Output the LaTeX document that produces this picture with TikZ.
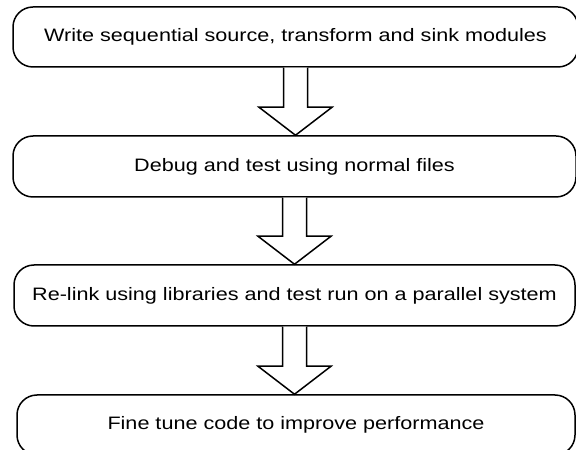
\documentclass[tikz,border=0pt]{standalone}
\usepackage{fontspec}
\setmainfont{Liberation Sans}[FakeStretch=1.2]
\usetikzlibrary{calc}
\begin{document}
\begin{tikzpicture}[x=1pt,y=1pt,
  stepbox/.style={draw=black, line width=1.5pt, rounded corners=20pt, fill=white,
    inner sep=0pt, font=\fontsize{18}{21}\selectfont, text=black},
  blockarrow/.style={draw=black, line width=1.5pt, fill=white, line join=miter}]
\fill[white] (0,0) rectangle (576,450);
\useasboundingbox (0,0) rectangle (576,450);
\clip (0,0) rectangle (576,450);
\node[stepbox, minimum width=565pt, minimum height=60pt] (b1) at (295.5,413) {Write sequential source, transform and sink modules};
\node[stepbox, minimum width=563pt, minimum height=61pt] (b2) at (294.5,283.5) {Debug and test using normal files};
\node[stepbox, minimum width=561pt, minimum height=61pt] (b3) at (294.5,154.5) {Re-link using libraries and test run on a parallel system};
\node[stepbox, minimum width=558pt, minimum height=60pt] (b4) at (296,25) {Fine tune code to improve performance};
\foreach \a/\b in {b1/b2, b2/b3, b3/b4}{
  \draw[blockarrow]
    ($(\a.south)+(-12,0)$) -- ($(\b.north -| \a.south)+(-12,28)$)
    -- ($(\b.north -| \a.south)+(-36.5,28)$) -- (\b.north -| \a.south)
    -- ($(\b.north -| \a.south)+(36.5,28)$) -- ($(\b.north -| \a.south)+(12,28)$)
    -- ($(\a.south)+(12,0)$);
}
\end{tikzpicture}
\end{document}
